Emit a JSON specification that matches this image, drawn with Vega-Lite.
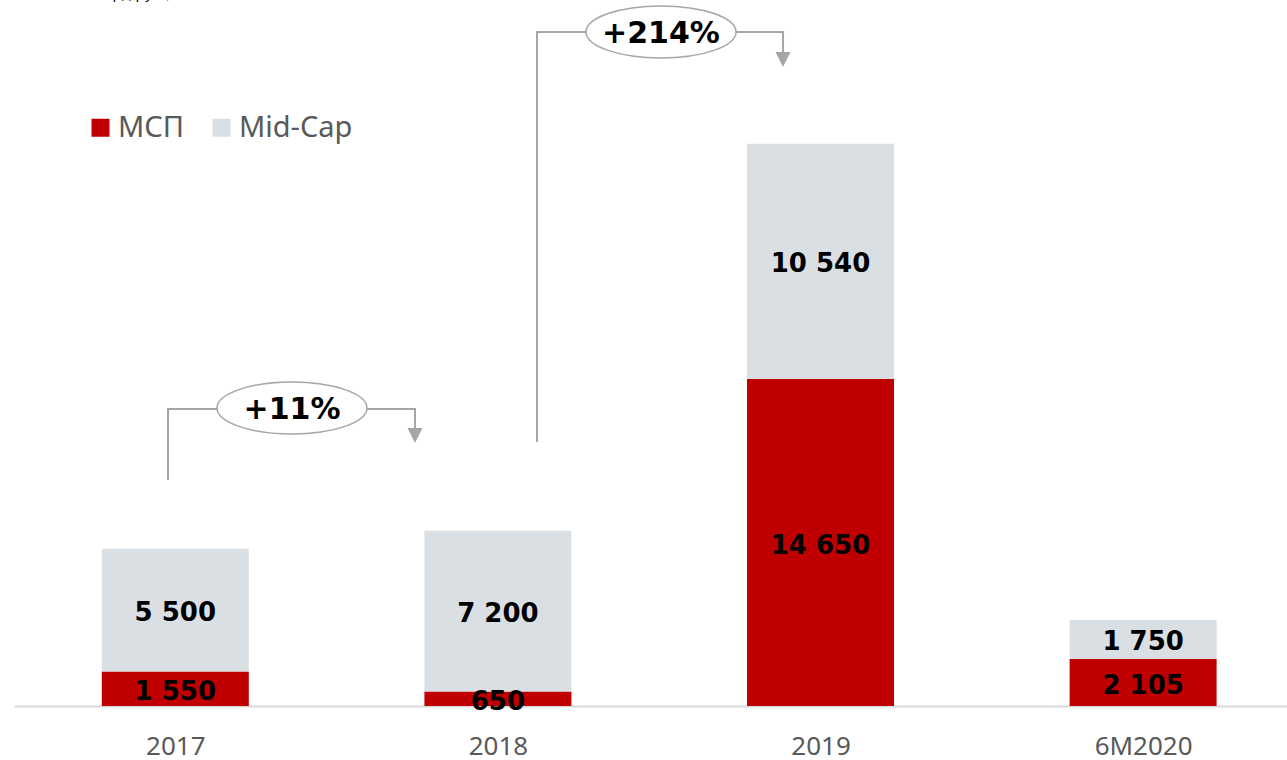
{
  "$schema": "https://vega.github.io/schema/vega-lite/v6.json",
  "width": 1273,
  "height": 706,
  "autosize": {"type": "none"},
  "padding": {"left": 14, "top": 0, "right": 0, "bottom": 54},
  "background": "white",
  "config": {
    "view": {"stroke": null},
    "locale": {"number": {"decimal": ",", "thousands": " ", "grouping": [3], "currency": ["", ""]}}
  },
  "datasets": {
    "bars": [
      {"year": "2017", "pos": 0, "segment": "МСП", "value": 1550},
      {"year": "2017", "pos": 0, "segment": "Mid-Cap", "value": 5500},
      {"year": "2018", "pos": 1, "segment": "МСП", "value": 650},
      {"year": "2018", "pos": 1, "segment": "Mid-Cap", "value": 7200},
      {"year": "2019", "pos": 2, "segment": "МСП", "value": 14650},
      {"year": "2019", "pos": 2, "segment": "Mid-Cap", "value": 10540},
      {"year": "6M2020", "pos": 3, "segment": "МСП", "value": 2105},
      {"year": "6M2020", "pos": 3, "segment": "Mid-Cap", "value": 1750}
    ],
    "brackets": [
      {"g": "a", "s": 1, "pos": -0.0226, "amount": 10125},
      {"g": "a", "s": 2, "pos": -0.0226, "amount": 13306},
      {"g": "a", "s": 3, "pos": 0.743, "amount": 13306},
      {"g": "a", "s": 4, "pos": 0.743, "amount": 12455},
      {"g": "b", "s": 1, "pos": 1.1212, "amount": 11828},
      {"g": "b", "s": 2, "pos": 1.1212, "amount": 30197},
      {"g": "b", "s": 3, "pos": 1.8838, "amount": 30197},
      {"g": "b", "s": 4, "pos": 1.8838, "amount": 29256}
    ],
    "arrows": [
      {"pos": 0.743, "amount": 12119},
      {"pos": 1.8838, "amount": 28965}
    ],
    "badges": [
      {"pos": 0.3617, "amount": 13351, "label": "+11%"},
      {"pos": 1.5056, "amount": 30197, "label": "+214%"}
    ],
    "caption": [
      {"pos": -0.0126, "amount": 31676, "label": "млрд руб.)"}
    ]
  },
  "layer": [
    {
      "data": {"name": "bars"},
      "mark": {"type": "bar", "size": 147},
      "encoding": {
        "x": {
          "field": "pos", "type": "quantitative",
          "scale": {"domain": [-0.5, 3.446], "nice": false, "zero": false, "padding": 0},
          "axis": {
            "values": [0, 1, 2, 3],
            "labelExpr": "['2017','2018','2019','6M2020'][datum.value]",
            "ticks": false, "grid": false, "title": null,
            "domainColor": "#D9D9D9", "domainWidth": 2,
            "labelFont": "Noto Sans", "labelFontSize": 26, "labelColor": "#595959",
            "labelPadding": 27, "labelOverlap": false, "labelFlush": false
          }
        },
        "y": {
          "field": "value", "type": "quantitative", "stack": "zero",
          "scale": {"domain": [0, 31630], "nice": false, "zero": true},
          "axis": null
        },
        "color": {
          "field": "segment", "type": "nominal",
          "scale": {"domain": ["МСП", "Mid-Cap"], "range": ["#C00000", "#DADFE3"]},
          "legend": {
            "orient": "none", "legendX": 72, "legendY": 113, "direction": "horizontal",
            "title": null, "symbolType": "square", "symbolSize": 324, "symbolStrokeWidth": 0,
            "labelFont": "Noto Sans", "labelFontSize": 29, "labelColor": "#595959",
            "labelOffset": 3, "columnPadding": 22, "padding": 0
          }
        },
        "order": {"field": "segment", "sort": "descending"}
      }
    },
    {
      "data": {"name": "bars"},
      "mark": {"type": "text", "font": "DejaVu Sans", "fontWeight": "bold", "fontSize": 26, "color": "#000000", "baseline": "middle", "align": "center", "dy": 3},
      "encoding": {
        "x": {"field": "pos", "type": "quantitative"},
        "y": {"field": "value", "type": "quantitative", "stack": "zero", "bandPosition": 0.5},
        "detail": {"field": "segment"},
        "order": {"field": "segment", "sort": "descending"},
        "text": {"field": "value", "type": "quantitative", "format": ",d"}
      }
    },
    {
      "data": {"name": "brackets"},
      "mark": {"type": "line", "color": "#A6A6A6", "strokeWidth": 2},
      "encoding": {
        "x": {"field": "pos", "type": "quantitative"},
        "y": {"field": "amount", "type": "quantitative"},
        "detail": {"field": "g"},
        "order": {"field": "s"}
      }
    },
    {
      "data": {"name": "arrows"},
      "mark": {"type": "point", "shape": "M -1 -1 L 1 -1 L 0 1 Z", "size": 225, "filled": true, "color": "#A6A6A6", "opacity": 1},
      "encoding": {
        "x": {"field": "pos", "type": "quantitative"},
        "y": {"field": "amount", "type": "quantitative"}
      }
    },
    {
      "data": {"name": "badges"},
      "mark": {"type": "point", "shape": "M -1 0 A 1 0.347 0 1 1 1 0 A 1 0.347 0 1 1 -1 0 Z", "size": 22500, "filled": false, "fill": "#FFFFFF", "stroke": "#A6A6A6", "strokeWidth": 1.5, "opacity": 1, "fillOpacity": 1},
      "encoding": {
        "x": {"field": "pos", "type": "quantitative"},
        "y": {"field": "amount", "type": "quantitative"}
      }
    },
    {
      "data": {"name": "badges"},
      "mark": {"type": "text", "font": "DejaVu Sans", "fontWeight": "bold", "fontSize": 30, "color": "#000000", "baseline": "middle", "align": "center", "dy": 2},
      "encoding": {
        "x": {"field": "pos", "type": "quantitative"},
        "y": {"field": "amount", "type": "quantitative"},
        "text": {"field": "label"}
      }
    },
    {
      "data": {"name": "caption"},
      "mark": {"type": "text", "font": "DejaVu Sans", "fontSize": 14, "color": "#000000", "baseline": "alphabetic", "align": "right"},
      "encoding": {
        "x": {"field": "pos", "type": "quantitative"},
        "y": {"field": "amount", "type": "quantitative"},
        "text": {"field": "label"}
      }
    }
  ]
}
